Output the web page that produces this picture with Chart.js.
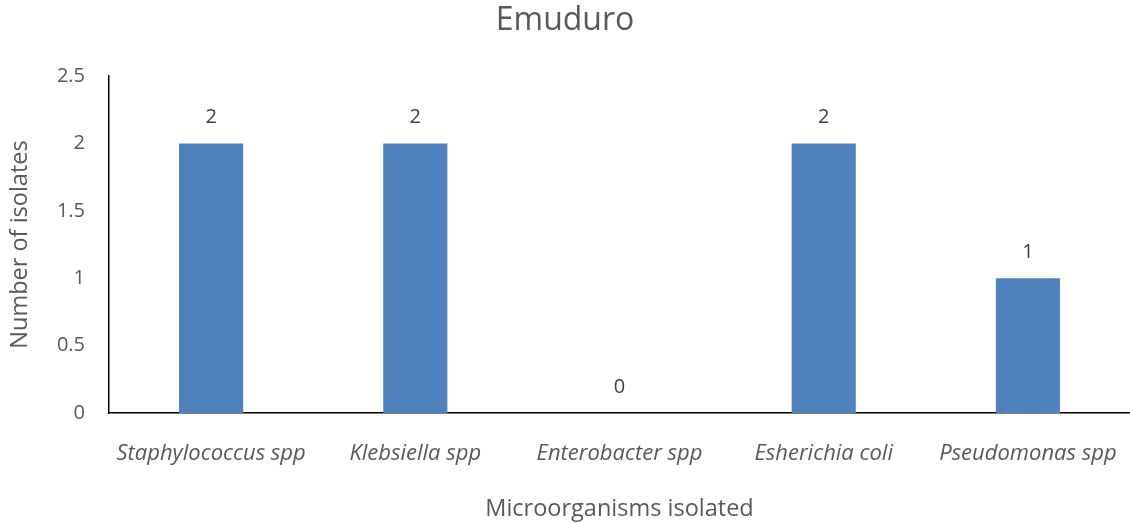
<!DOCTYPE html>
<html>
<head>
<meta charset="utf-8">
<script src="https://cdn.jsdelivr.net/npm/chart.js@4.4.1/dist/chart.umd.min.js"></script>
<style>
  html, body { margin: 0; padding: 0; background: #fff; }
  #wrap { width: 1130px; height: 523px; position: relative; }
</style>
</head>
<body>
<div id="wrap"><canvas id="c" width="1130" height="523"></canvas></div>
<script>
const categories = ['Staphylococcus spp', 'Klebsiella spp', 'Enterobacter spp', 'Esherichia coli', 'Pseudomonas spp'];
const isolates = [2, 2, 0, 2, 1];
const yTicks = [0, 0.5, 1, 1.5, 2, 2.5];

const FONT = '"Open Sans", sans-serif';
const TXT = '#595959';

const valueLabels = {
  id: 'valueLabels',
  afterDatasetsDraw(chart) {
    const ctx = chart.ctx;
    const meta = chart.getDatasetMeta(0);
    ctx.save();
    ctx.font = '20px ' + FONT;
    ctx.fillStyle = '#404040';
    ctx.textAlign = 'center';
    ctx.textBaseline = 'middle';
    meta.data.forEach((bar, i) => {
      ctx.fillText(String(isolates[i]), bar.x, bar.y - 26);
    });
    ctx.restore();
  }
};

new Chart(document.getElementById('c'), {
  type: 'bar',
  data: {
    labels: categories,
    datasets: [{
      data: isolates,
      backgroundColor: '#4F81BD',
      borderWidth: 0,
      categoryPercentage: 1,
      barPercentage: 0.314
    }]
  },
  options: {
    responsive: false,
    animation: false,
    layout: { padding: 0 },
    plugins: {
      legend: { display: false },
      tooltip: { enabled: false },
      title: {
        display: true,
        text: 'Emuduro',
        color: TXT,
        font: { family: FONT, size: 32, weight: 'normal', lineHeight: 1.2 },
        padding: { top: 2, bottom: 35.6 }
      }
    },
    scales: {
      x: {
        grid: { display: false, drawTicks: true, tickLength: 28 },
        border: { display: true, color: '#000', width: 1.5 },
        ticks: {
          color: TXT,
          font: { family: FONT, size: 22, style: 'italic' },
          padding: 0,
          maxRotation: 0
        },
        title: {
          display: true,
          text: 'Microorganisms isolated',
          color: TXT,
          font: { family: FONT, size: 23.5, weight: 'normal' },
          padding: { top: 0, bottom: 0 }
        },
        afterFit(scale) { scale.height = 110; }
      },
      y: {
        min: 0,
        max: 2.5,
        grid: { display: false, drawTicks: false },
        border: { display: true, color: '#000', width: 1.5 },
        afterBuildTicks(scale) { scale.ticks = yTicks.map(v => ({ value: v })); },
        ticks: {
          color: TXT,
          font: { family: FONT, size: 20 },
          padding: 24,
          callback: (v) => String(v)
        },
        title: {
          display: true,
          text: 'Number of isolates',
          color: TXT,
          font: { family: FONT, size: 23.5, weight: 'normal' },
          padding: { top: 6, bottom: 0 }
        },
        afterFit(scale) { scale.width = 109; }
      }
    }
  },
  plugins: [valueLabels]
});
</script>
</body>
</html>
